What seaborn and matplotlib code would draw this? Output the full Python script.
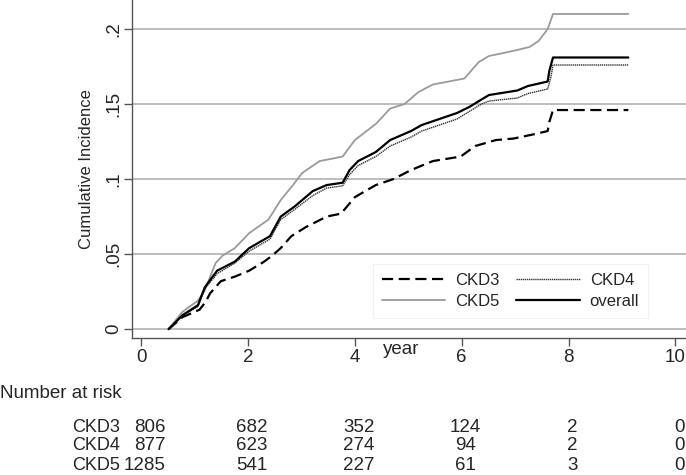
import numpy as np
import pandas as pd
import matplotlib
matplotlib.use('Agg')
import matplotlib.pyplot as plt
import matplotlib.transforms as mtransforms
import seaborn as sns

# cumulative incidence curves (year, value)
ckd3_t = [0.51, 0.77, 1.09, 1.20, 1.29, 1.49, 1.75, 2.02, 2.30, 2.45, 2.61, 2.81, 3.08, 3.47, 3.74,
          4.00, 4.39, 4.72, 5.05, 5.46, 5.98, 6.25, 6.64, 6.97, 7.37, 7.61, 7.64, 7.71, 9.12]
ckd3_v = [0.0, 0.008, 0.013, 0.018, 0.024, 0.032, 0.035, 0.039, 0.045, 0.049, 0.054, 0.062, 0.068, 0.075, 0.077,
          0.088, 0.096, 0.100, 0.106, 0.112, 0.115, 0.122, 0.126, 0.127, 0.130, 0.132, 0.138, 0.146, 0.146]

ckd4_t = [0.51, 0.77, 1.06, 1.19, 1.42, 1.75, 2.02, 2.41, 2.61, 2.88, 3.21, 3.47, 3.77, 3.90,
          4.06, 4.39, 4.66, 5.05, 5.25, 5.58, 5.91, 6.14, 6.37, 6.51, 7.04, 7.24, 7.61, 7.67, 7.71, 9.12]
ckd4_v = [0.0, 0.009, 0.015, 0.027, 0.037, 0.044, 0.052, 0.060, 0.073, 0.080, 0.089, 0.094, 0.0955, 0.103,
          0.109, 0.115, 0.122, 0.128, 0.132, 0.136, 0.140, 0.145, 0.150, 0.152, 0.154, 0.157, 0.160, 0.168, 0.176, 0.176]

ckd5_t = [0.51, 0.77, 1.06, 1.19, 1.39, 1.52, 1.75, 2.02, 2.38, 2.61, 2.84, 3.01, 3.34, 3.77, 4.00,
          4.40, 4.66, 4.93, 5.19, 5.46, 6.05, 6.32, 6.51, 6.78, 7.04, 7.27, 7.44, 7.61, 7.71, 9.12]
ckd5_v = [0.0, 0.0116, 0.019, 0.026, 0.044, 0.049, 0.054, 0.064, 0.073, 0.086, 0.096, 0.104, 0.112, 0.115, 0.126,
          0.137, 0.147, 0.150, 0.158, 0.163, 0.167, 0.178, 0.182, 0.184, 0.186, 0.188, 0.192, 0.200, 0.210, 0.210]

all_t = [0.51, 0.77, 1.06, 1.19, 1.42, 1.75, 2.02, 2.41, 2.61, 2.88, 3.21, 3.47, 3.77, 3.90, 4.06,
         4.39, 4.66, 5.05, 5.25, 5.58, 5.91, 6.14, 6.37, 6.51, 7.04, 7.24, 7.61, 7.64, 7.71, 9.12]
all_v = [0.0, 0.0093, 0.016, 0.028, 0.039, 0.045, 0.054, 0.062, 0.075, 0.082, 0.092, 0.096, 0.0976, 0.106, 0.112,
         0.118, 0.126, 0.132, 0.136, 0.140, 0.144, 0.148, 0.153, 0.156, 0.159, 0.162, 0.165, 0.172, 0.181, 0.181]

# number at risk table
risk_times = [0, 2, 4, 6, 8, 10]
risk_groups = ['CKD3', 'CKD4', 'CKD5']
risk_ckd3 = [806, 682, 352, 124, 2, 0]
risk_ckd4 = [877, 623, 274, 94, 2, 0]
risk_ckd5 = [1285, 541, 227, 61, 3, 0]

x_ticks = [0, 2, 4, 6, 8, 10]
y_ticks = [0, 0.05, 0.1, 0.15, 0.2]
y_ticklabels = ['0', '.05', '.1', '.15', '.2']

sns.set_style('white')
plt.rcParams['font.family'] = ['Liberation Sans', 'DejaVu Sans']

fig = plt.figure(figsize=(6.86, 4.75), dpi=100)
ax = fig.add_axes([0.192, 0.288, 0.808, 0.712])

series = [
    ('CKD3', ckd3_t, ckd3_v, dict(color='black', lw=1.6, dashes=(5, 2.5))),
    ('CKD5', ckd5_t, ckd5_v, dict(color='#9a9a9a', lw=1.3)),
    ('CKD4', ckd4_t, ckd4_v, dict(color='#333333', lw=1.0, linestyle=(0, (1, 0.5)))),
    ('overall', all_t, all_v, dict(color='black', lw=1.6)),
]
for name, t, v, style in series:
    df = pd.DataFrame({'t': t, 'v': v})
    sns.lineplot(data=df, x='t', y='v', ax=ax, estimator=None, sort=False,
                 label=name, zorder=3, **style)

ax.set_xlim(-0.18, 10.2)
ax.set_ylim(-0.006, 0.2193)
ax.set_xticks(x_ticks)
ax.set_yticks(y_ticks)
ax.set_yticklabels(y_ticklabels)
ax.yaxis.grid(True, color='#b8b8b8', lw=1.3)
ax.set_axisbelow(True)
ax.tick_params(axis='both', direction='out', length=6, width=1, color='#555555',
               labelsize=13.5, left=True, bottom=True)
ax.tick_params(axis='x', pad=1.5)
ax.tick_params(axis='y', labelrotation=90, pad=1)
for lab in ax.get_yticklabels():
    lab.set_va('center')
for s in ['top', 'right']:
    ax.spines[s].set_visible(False)
for s in ['left', 'bottom']:
    ax.spines[s].set_color('#555555')
    ax.spines[s].set_linewidth(1.0)

ax.set_xlabel('')
ax.set_ylabel('Cumulative Incidence', fontsize=12, labelpad=8)

# "year" label sitting in the tick label row
trans_x = mtransforms.blended_transform_factory(ax.transData, fig.transFigure)
ax.text(4.86, 1 - 349 / 475, 'year', transform=trans_x, ha='center', va='center', fontsize=13.5)

handles, labels = ax.get_legend_handles_labels()
leg = ax.legend(handles, labels, ncol=2, loc='lower left', bbox_to_anchor=(0.42, 0.035),
                frameon=True, fontsize=12, handlelength=3.8, columnspacing=1.0,
                handletextpad=0.6, borderpad=0.55, labelspacing=0.35, fancybox=False)
leg.get_frame().set_edgecolor('#eeeeee')
leg.get_frame().set_linewidth(0.8)

# number at risk table
fig.text(0.0, 1 - 393 / 475, 'Number at risk', ha='left', va='center', fontsize=13.5)
risk_rows = [risk_ckd3, risk_ckd4, risk_ckd5]
row_y = [427, 446, 465]
for grp, counts, yy in zip(risk_groups, risk_rows, row_y):
    fy = 1 - yy / 475
    fig.text(72 / 686, fy, grp, ha='left', va='center', fontsize=13)
    for i, (tm, n) in enumerate(zip(risk_times, counts)):
        if i == 0:
            ax.text(tm + 0.46, fy, str(n), transform=trans_x, ha='right', va='center',
                    fontsize=13.5, clip_on=False)
        else:
            ax.text(tm + 0.07, fy, str(n), transform=trans_x, ha='center', va='center',
                    fontsize=13.5, clip_on=False)

fig.savefig('out.png', dpi=100)
